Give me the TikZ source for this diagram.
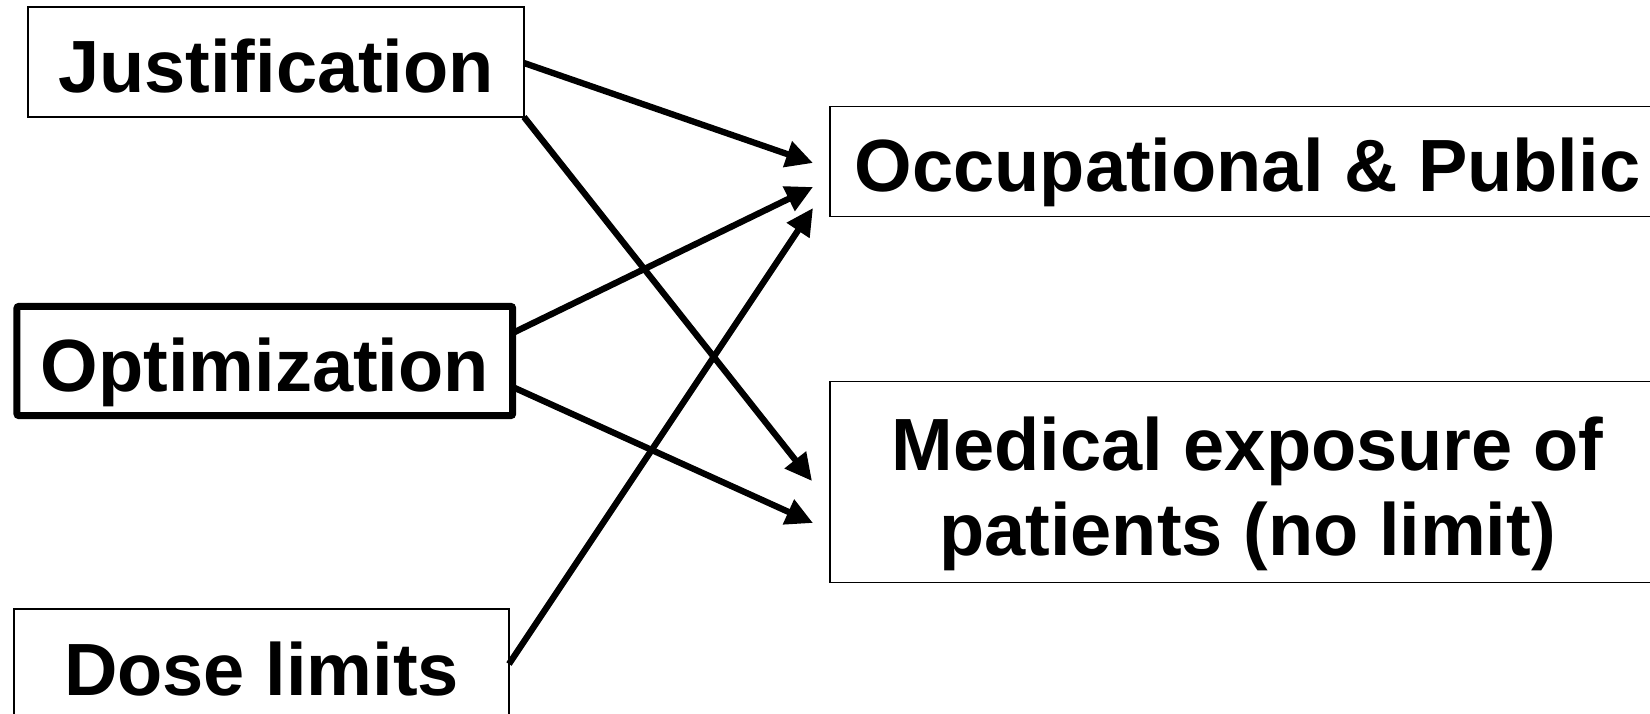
\documentclass[tikz,border=0pt]{standalone}
\usepackage{fontspec}
\setmainfont{Liberation Sans}
\usetikzlibrary{arrows.meta,calc}
\begin{document}
\begin{tikzpicture}[x=1pt,y=-1pt,
  box/.style={draw=black,line width=1.5pt,inner sep=0pt,outer sep=0pt,
    font=\fontsize{74}{85}\selectfont\bfseries,text height=60pt,text depth=0pt},
  thickbox/.style={box,line width=7pt,rounded corners=2pt},
  conn/.style={line width=6.3pt,-{Triangle[length=27pt,width=26pt]}}]
\useasboundingbox (0,0) rectangle (1650,713);
\node[box,minimum width=496pt,minimum height=110pt] (j) at (276,62) {Justification};
\node[thickbox,minimum width=495.7pt,minimum height=109.2pt] (o) at (264.8,361) {Optimization};
\node[box,minimum width=495pt,minimum height=112pt] (d) at (261.5,665) {Dose limits};
\node[box,minimum width=835pt,minimum height=110pt] (occ) at (1247.5,161.7) {Occupational \& Public};
\node[box,minimum width=835pt,minimum height=201pt,text height=60pt,text depth=84.4pt] (med) at (1247.5,482.2)
  {\begin{tabular}[t]{@{}c@{}}Medical exposure of\\patients (no limit)\end{tabular}};
\draw[conn] ($(j.east)+(0,1)$) -- ($(occ.west)+(-17,1.3)$);
\draw[conn] (j.south east) -- ($(med.west)+(-18,-1.2)$);
\draw[conn] ($(o.east)+(0,-28)$) -- ($(occ.west)+(-17,25.3)$);
\draw[conn] ($(o.east)+(0,26)$) -- ($(med.west)+(-17,40.8)$);
\draw[conn] ($(d.east)+(0,-1)$) -- ($(occ.west)+(-17,46.3)$);
\end{tikzpicture}
\end{document}
